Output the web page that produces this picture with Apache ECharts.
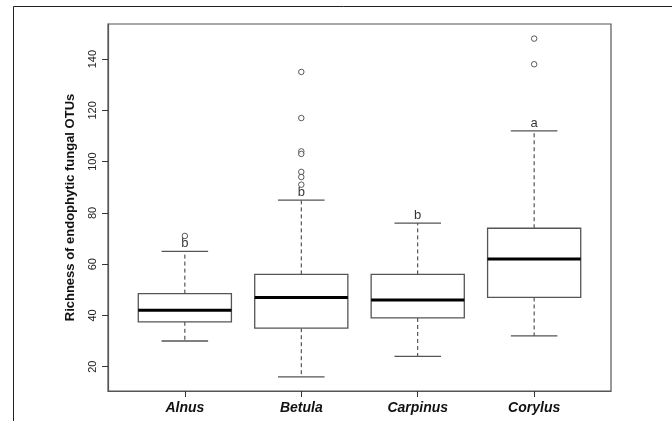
<!DOCTYPE html>
<html>
<head>
<meta charset="utf-8">
<script src="https://cdn.jsdelivr.net/npm/echarts@6/dist/echarts.min.js"></script>
<style>
  html, body { margin: 0; padding: 0; background: #fff; }
  #chart { width: 672px; height: 421px; }
</style>
</head>
<body>
<div id="chart"></div>
<script>
// species on the x axis
const categories = ['Alnus', 'Betula', 'Carpinus', 'Corylus']
// box statistics
const lowerWhisker = [30, 16, 24, 32]
const q1 = [37.5, 35, 39, 47]
const median = [42, 47, 46, 62]
const q3 = [48.5, 56, 56, 74]
const upperWhisker = [65, 85, 76, 112]
// outlying points for each species
const outliers = [[71], [135, 117, 104, 103, 96, 94, 91], [], [148, 138]]
// significance letters above the whiskers
const groupLetters = ['b', 'b', 'b', 'a']
// tick labels
const yTicks = [20, 40, 60, 80, 100, 120, 140]
const xTicks = [1, 2, 3, 4]

const boxData = categories.map((c, i) => [i + 1, lowerWhisker[i], q1[i], median[i], q3[i], upperWhisker[i]])
const outlierData = []
outliers.forEach((list, i) => list.forEach(v => outlierData.push([i + 1, v])))
const letterData = categories.map((c, i) => [i + 1, upperWhisker[i]])

const boxColor = '#555'

function renderBox(params, api) {
  const x = api.value(0)
  const low = api.coord([x, api.value(1)])
  const lo = api.coord([x, api.value(2)])
  const mid = api.coord([x, api.value(3)])
  const hi = api.coord([x, api.value(4)])
  const high = api.coord([x, api.value(5)])
  const half = api.size([0.4, 0])[0]
  const cap = api.size([0.2, 0])[0]
  const cx = low[0]
  const dashed = { stroke: '#333', lineWidth: 1, lineDash: [4, 3] }
  const solid = { stroke: boxColor, lineWidth: 1.3 }
  return {
    type: 'group',
    children: [
      { type: 'line', shape: { x1: cx, y1: hi[1], x2: cx, y2: high[1] }, style: dashed },
      { type: 'line', shape: { x1: cx, y1: lo[1], x2: cx, y2: low[1] }, style: dashed },
      { type: 'line', shape: { x1: cx - cap, y1: high[1], x2: cx + cap, y2: high[1] }, style: solid },
      { type: 'line', shape: { x1: cx - cap, y1: low[1], x2: cx + cap, y2: low[1] }, style: solid },
      { type: 'rect', shape: { x: cx - half, y: hi[1], width: half * 2, height: lo[1] - hi[1] },
        style: { fill: '#fff', stroke: boxColor, lineWidth: 1.3 } },
      { type: 'line', shape: { x1: cx - half, y1: mid[1], x2: cx + half, y2: mid[1] },
        style: { stroke: '#000', lineWidth: 3 } }
    ]
  }
}

const myChart = echarts.init(document.getElementById('chart'))
const option = {
  animation: false,
  backgroundColor: '#fff',
  textStyle: { fontFamily: 'Liberation Sans, Arial, sans-serif' },
  graphic: [
    {
      type: 'rect',
      shape: { x: 13.5, y: 6.5, width: 700, height: 500 },
      style: { fill: 'none', stroke: '#222', lineWidth: 1 },
      silent: true
    }
  ],
  grid: {
    left: 108, right: 61, top: 24, bottom: 30,
    show: true, borderColor: boxColor, borderWidth: 1.2
  },
  xAxis: {
    type: 'value',
    min: 0.34,
    max: 4.66,
    splitLine: { show: false },
    axisLine: { show: true, lineStyle: { color: boxColor, width: 1.2 } },
    axisTick: { show: true, customValues: xTicks, length: 6, lineStyle: { color: '#333' } },
    axisLabel: {
      customValues: xTicks,
      margin: 10,
      formatter: v => categories[Math.round(v) - 1],
      fontSize: 14,
      fontWeight: 'bold',
      fontStyle: 'italic',
      color: '#111'
    }
  },
  yAxis: {
    type: 'value',
    min: 10.5,
    max: 153.7,
    name: 'Richness of endophytic fungal OTUs',
    nameLocation: 'middle',
    nameGap: 31,
    nameTextStyle: { fontSize: 13, fontWeight: 'bold', color: '#111' },
    splitLine: { show: false },
    axisLine: { show: true, lineStyle: { color: boxColor, width: 1.2 } },
    axisTick: { show: true, customValues: yTicks, length: 6, lineStyle: { color: '#333' } },
    axisLabel: {
      customValues: yTicks,
      rotate: 90,
      margin: 10,
      fontSize: 11,
      color: '#222'
    }
  },
  series: [
    {
      type: 'custom',
      renderItem: renderBox,
      data: boxData,
      encode: { x: 0, y: [1, 2, 3, 4, 5] },
      z: 2
    },
    {
      type: 'scatter',
      data: outlierData,
      symbol: 'circle',
      symbolSize: 5.5,
      itemStyle: { color: '#fff', borderColor: '#333', borderWidth: 1 },
      z: 3
    },
    {
      type: 'scatter',
      data: letterData,
      symbolSize: 0,
      label: {
        show: true,
        position: 'top',
        distance: 1,
        formatter: p => groupLetters[p.dataIndex],
        fontSize: 13,
        color: '#000'
      },
      z: 4
    }
  ]
}
myChart.setOption(option)
</script>
</body>
</html>
